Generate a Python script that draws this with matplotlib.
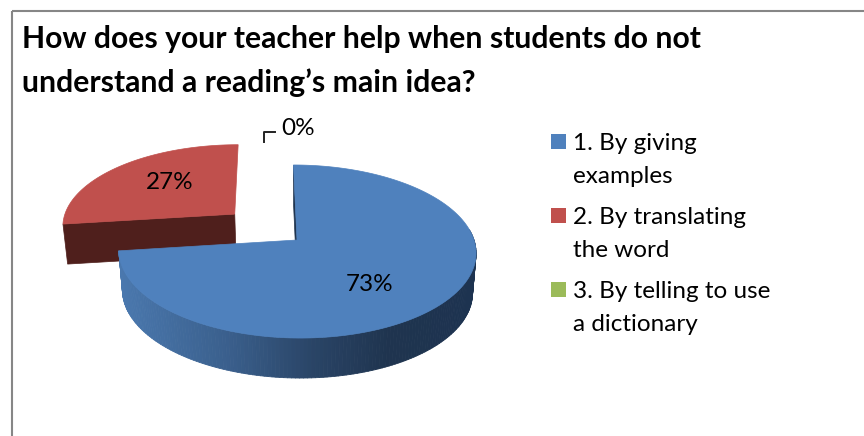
import numpy as np
import matplotlib
matplotlib.use("Agg")
import matplotlib.pyplot as plt
from matplotlib.collections import PolyCollection
from matplotlib.colors import LinearSegmentedColormap
from matplotlib.patches import Polygon, Rectangle

title = "How does your teacher help when students do not\nunderstand a reading\u2019s main idea?"
categories = ["1. By giving\nexamples", "2. By translating\nthe word", "3. By telling to use\na dictionary"]
values = [73, 27, 0]
explode = [0, 0.48, 0]
colors = ["#4f81bd", "#c0504d", "#9bbb59"]

plt.rcParams["font.family"] = ["Lato", "DejaVu Sans"]

# where the pie sits on the page, in pixels
CX, CY = 297, 240
RX, RY = 177, 85
PERSP = 0.133
LEAN = 3.5
DEPTH = 40
SHRINK = 0.98


def to_page(x, y, drop=False):
    # flat pie coords to tilted page coords
    w = 1 + PERSP * y
    px = RX * x / w - LEAN * y
    py = -RY * y / w
    if drop:
        return CX + px * SHRINK, CY + py + DEPTH
    return CX + px, CY + py


def rim(wedge, a1, a2, n=120):
    t = np.radians(np.linspace(a1, a2, n))
    return wedge.center[0] + wedge.r * np.cos(t), wedge.center[1] + wedge.r * np.sin(t)


fig = plt.figure(figsize=(8.64, 4.36), dpi=100)
ax = fig.add_axes([0, 0, 1, 1])
wedges, _ = ax.pie(values, explode=explode, colors=colors, startangle=90, counterclock=False)
for w in wedges:
    w.remove()
ax.set_aspect("auto")
ax.set_xlim(0, 864)
ax.set_ylim(436, 0)
ax.axis("off")

ax.add_patch(Rectangle((12, 11), 900, 500, fill=False, ec="#868686", lw=1.5))

blue, red = wedges[0], wedges[1]

# red slice, only the cut face shows
xs, ys = rim(red, red.theta2, red.theta2, 2)
cut_x = [red.center[0], xs[0]]
cut_y = [red.center[1], ys[0]]
top = [to_page(x, y) for x, y in zip(cut_x, cut_y)]
low = [to_page(x, y, True) for x, y in zip(cut_x, cut_y)]
ax.add_patch(Polygon(top + low[::-1], fc="#4f1f1c", ec="#4f1f1c", lw=0.5))
xs, ys = rim(red, red.theta1, red.theta2)
outline = [to_page(red.center[0], red.center[1])] + [to_page(x, y) for x, y in zip(xs, ys)]
ax.add_patch(Polygon(outline, fc=colors[1], ec=colors[1], lw=0.5))

# blue slice, sliver of the cut face then the shaded rim
xs, ys = rim(blue, blue.theta2, blue.theta2, 2)
cut_x = [blue.center[0], xs[0]]
cut_y = [blue.center[1], ys[0]]
top = [to_page(x, y) for x, y in zip(cut_x, cut_y)]
low = [to_page(x, y, True) for x, y in zip(cut_x, cut_y)]
ax.add_patch(Polygon(top + low[::-1], fc="#1f344f", ec="#1f344f", lw=0.5))

shade = LinearSegmentedColormap.from_list(
    "rim", [(0, "#4a78ae"), (0.3, "#3a5f8c"), (0.53, "#2a4567"), (0.75, "#1f344f"), (1, "#1d3350")])
xs, ys = rim(blue, blue.theta1, 7, 160)
page_top = np.array([to_page(x, y) for x, y in zip(xs, ys)])
page_low = np.array([to_page(x, y, True) for x, y in zip(xs, ys)])
quads = []
quad_c = []
for i in range(len(xs) - 1):
    quads.append([page_top[i], page_top[i + 1], page_low[i + 1], page_low[i]])
    quad_c.append(shade((page_top[i, 0] - 120) / 357))
ax.add_collection(PolyCollection(quads, facecolors=quad_c, edgecolors=quad_c, linewidths=0.6))

xs, ys = rim(blue, blue.theta1, blue.theta2, 300)
outline = [to_page(blue.center[0], blue.center[1])] + [to_page(x, y) for x, y in zip(xs, ys)]
ax.add_patch(Polygon(outline, fc=colors[0], ec=colors[0], lw=0.5))

# data labels
label_pos = [(370, 284), (170, 182), (298, 128)]
for v, (x, y) in zip(values, label_pos):
    ax.text(x, y, f"{v}%", ha="center", va="center", fontsize=17.5, color="black")
ax.plot([264, 264, 275], [142, 132, 132], color="#222222", lw=1.4)

ax.text(22, 61, title, ha="left", va="center", fontsize=21.7, fontweight="bold",
        color="black", linespacing=1.65)

# legend written out, the swatch sits on the first line
for i, (name, c) in enumerate(zip(categories, colors)):
    y0 = 134 + 74 * i
    ax.add_patch(Rectangle((551, y0), 15, 15, fc=c, ec="none"))
    ax.text(573, y0 + 9, name.split("\n")[0], ha="left", va="center", fontsize=17.5, color="black")
    ax.text(573, y0 + 42, name.split("\n")[1], ha="left", va="center", fontsize=17.5, color="black")

fig.savefig("out.png", dpi=100)
